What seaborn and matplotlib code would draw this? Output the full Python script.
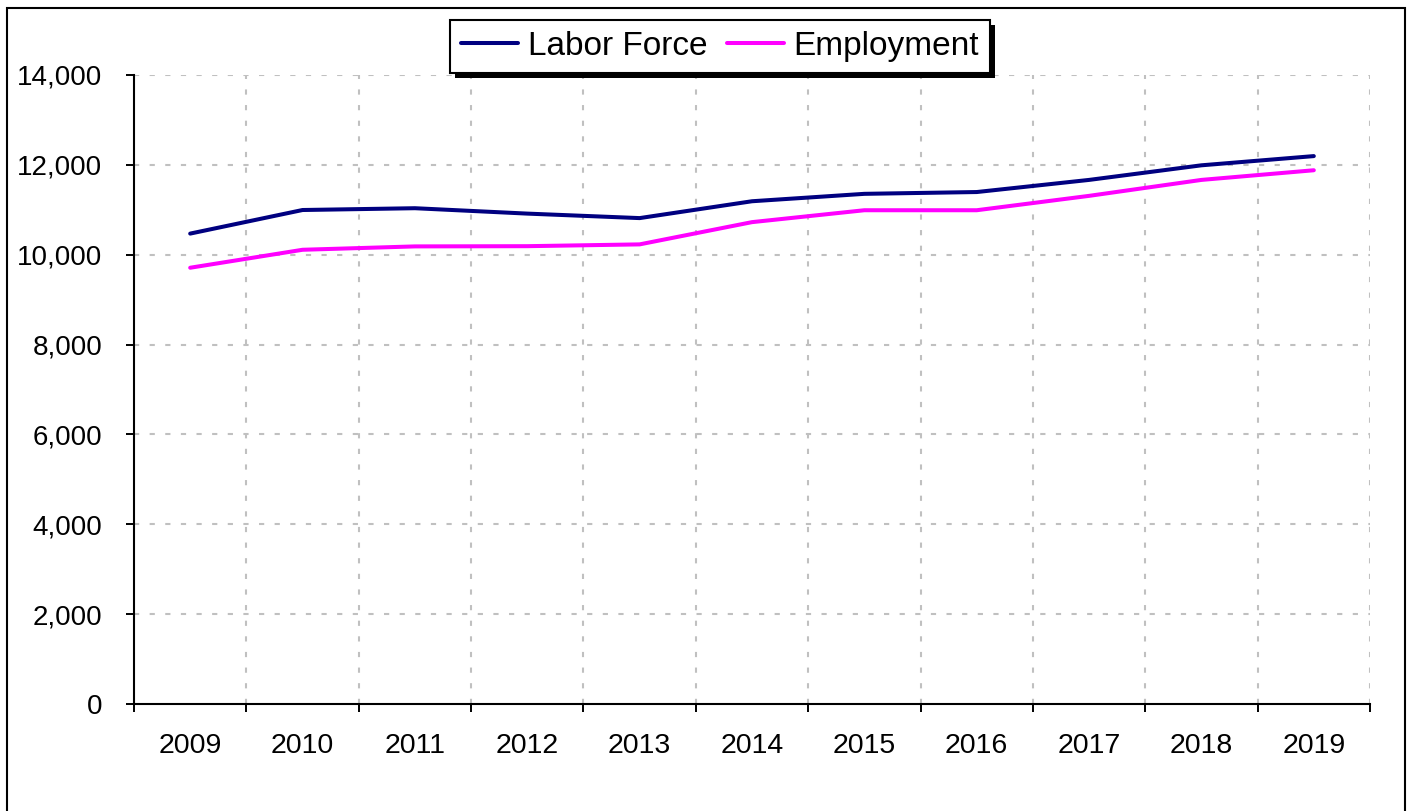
import matplotlib
matplotlib.use("Agg")
import matplotlib.pyplot as plt
import matplotlib.ticker as mticker
from matplotlib.patches import Rectangle
import seaborn as sns
import pandas as pd

years = [2009, 2010, 2011, 2012, 2013, 2014, 2015, 2016, 2017, 2018, 2019]
labor_force = [10470, 10995, 11035, 10915, 10815, 11190, 11355, 11395, 11665, 11990, 12195]
employment = [9710, 10110, 10185, 10190, 10230, 10725, 10990, 10990, 11310, 11665, 11880]
series_names = ["Labor Force", "Employment"]
colors = ["#000080", "#FF00FF"]
y_ticks = [0, 2000, 4000, 6000, 8000, 10000, 12000, 14000]

df = pd.DataFrame({
    "Year": years * 2,
    "Value": labor_force + employment,
    "Series": [series_names[0]] * len(years) + [series_names[1]] * len(years),
})

sns.set_theme(style="white")
plt.rcParams["font.family"] = ["Liberation Sans", "DejaVu Sans"]
plt.rcParams["text.color"] = "black"

W, H = 1414, 811
fig = plt.figure(figsize=(W / 100, H / 100), dpi=100)
ax = fig.add_axes([134 / W, 1 - 704 / H, (1370 - 134) / W, (704 - 75) / H])

sns.lineplot(data=df, x="Year", y="Value", hue="Series", hue_order=series_names,
             palette=colors, linewidth=2.9, ax=ax, legend=False)

ax.set_xlim(years[0] - 0.5, years[-1] + 0.5)
ax.set_ylim(y_ticks[0], y_ticks[-1])
ax.set_xlabel("")
ax.set_ylabel("")

# Boundary ticks (major) and centered labels (minor)
bounds = [y - 0.5 for y in years] + [years[-1] + 0.5]
ax.set_xticks(bounds)
ax.set_xticklabels([])
ax.set_xticks(years, minor=True)
ax.set_xticklabels([str(y) for y in years], minor=True)
ax.set_yticks(y_ticks)
ax.yaxis.set_major_formatter(mticker.FuncFormatter(lambda v, p: f"{int(v):,}"))

ax.tick_params(axis="x", which="major", direction="out", length=6, width=1.4,
               color="black", bottom=True)
ax.tick_params(axis="x", which="minor", length=0, pad=21, labelsize=20.5,
               labelcolor="black", bottom=True)
ax.tick_params(axis="y", which="major", direction="out", length=6, width=1.4,
               color="black", pad=17, labelsize=20, labelcolor="black", left=True)

for s in ["top", "right"]:
    ax.spines[s].set_visible(False)
for s in ["left", "bottom"]:
    ax.spines[s].set_visible(True)
    ax.spines[s].set_color("black")
    ax.spines[s].set_linewidth(1.5)

grid_style = dict(color="#C0C0C0", linewidth=1.5, linestyle=(0, (2.5, 5)), zorder=0)
for yv in y_ticks[1:]:
    ax.axhline(yv, **grid_style)
for xv in bounds[1:]:
    ax.axvline(xv, **grid_style)
ax.set_axisbelow(True)

# Legend
handles = [plt.Line2D([], [], color=c, linewidth=2.9) for c in colors]
leg = fig.legend(handles, series_names, loc="upper center",
                 bbox_to_anchor=(720 / W, 1 - 20 / H), ncol=2, frameon=True,
                 fontsize=24, handlelength=1.7, handletextpad=0.3,
                 columnspacing=0.6, borderpad=0.33, borderaxespad=0,
                 fancybox=False)
for t in leg.get_texts():
    t.set_color("black")
frame = leg.get_frame()
frame.set_edgecolor("black")
frame.set_linewidth(1.5)
frame.set_facecolor("white")
frame.set_alpha(1)
leg.set_zorder(5)

fig.canvas.draw()
bb = leg.get_window_extent()
shadow = Rectangle((bb.x0 + 5, bb.y0 - 5), bb.width, bb.height, transform=None,
                   facecolor="black", edgecolor="none", zorder=4)
fig.patches.append(shadow)

# Outer border
border = Rectangle((7, -20), 1405 - 7, (H - 8) + 20, transform=None,
                   facecolor="none", edgecolor="black", linewidth=1.5, zorder=10)
fig.patches.append(border)

fig.savefig("out.png", dpi=100, facecolor="white")
